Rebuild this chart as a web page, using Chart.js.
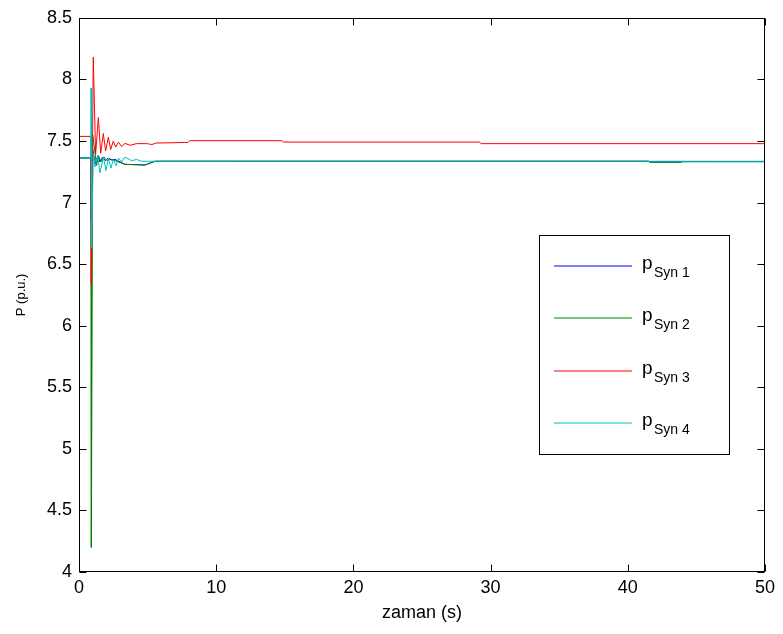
<!DOCTYPE html>
<html>
<head>
<meta charset="utf-8">
<script src="https://cdn.jsdelivr.net/npm/chart.js@4/dist/chart.umd.min.js"></script>
<style>
  html, body { margin: 0; padding: 0; background: #fff; }
  #wrap { width: 783px; height: 634px; }
</style>
</head>
<body>
<div id="wrap"><canvas id="c" width="783" height="634"></canvas></div>
<script>
// ---- data ----
const seriesNames = ['Syn 1', 'Syn 2', 'Syn 3', 'Syn 4'];
const xTickValues = [0, 10, 20, 30, 40, 50];
const yTickValues = [4, 4.5, 5, 5.5, 6, 6.5, 7, 7.5, 8, 8.5];

const tSyn1 = [0, 0.88, 0.9, 0.98, 1.1, 1.2, 1.36, 1.53, 1.72, 1.92, 2.12, 2.36, 2.62, 3.0, 3.35, 4.81, 5.54, 41.5, 41.6, 50];
const pSyn1 = [7.362, 7.362, 6.85, 7.45, 7.36, 7.31, 7.38, 7.33, 7.37, 7.34, 7.36, 7.345, 7.35, 7.33, 7.31, 7.305, 7.335, 7.335, 7.332, 7.332];

const tSyn2 = [0, 0.88, 0.9, 1.0, 1.17, 1.28, 1.43, 1.6, 1.82, 2.04, 2.26, 2.62, 3.35, 4.81, 5.54, 41.5, 41.6, 43.9, 44.0, 50];
const pSyn2 = [7.362, 7.362, 4.2, 7.55, 7.40, 7.30, 7.38, 7.33, 7.37, 7.34, 7.355, 7.34, 7.31, 7.305, 7.335, 7.335, 7.326, 7.326, 7.332, 7.332];

const tSyn3 = [0, 0.88, 0.9, 1.04, 1.21, 1.41, 1.58, 1.77, 1.94, 2.14, 2.31, 2.5, 2.67, 2.87, 3.11, 3.35, 3.72, 4.2, 5.0, 5.3, 5.6, 7.95, 8.06, 14.8, 14.9, 29.2, 29.3, 50];
const pSyn3 = [7.537, 7.537, 6.33, 8.18, 7.39, 7.69, 7.40, 7.56, 7.42, 7.53, 7.43, 7.50, 7.45, 7.49, 7.455, 7.48, 7.465, 7.478, 7.478, 7.47, 7.483, 7.488, 7.502, 7.502, 7.491, 7.491, 7.478, 7.478];

const tSyn4 = [0, 0.86, 0.88, 0.92, 1.04, 1.17, 1.36, 1.53, 1.77, 1.97, 2.14, 2.33, 2.5, 2.7, 2.87, 3.11, 3.35, 3.84, 4.2, 4.57, 5.05, 50];
const pSyn4 = [7.362, 7.362, 7.93, 6.63, 7.40, 7.29, 7.38, 7.24, 7.37, 7.26, 7.36, 7.28, 7.35, 7.30, 7.36, 7.33, 7.37, 7.34, 7.35, 7.335, 7.335, 7.335];

const seriesColors = ['#0000ff', '#008000', '#ff0000', '#00bfbf'];

// ---- build datasets ----
const times = [tSyn1, tSyn2, tSyn3, tSyn4];
const values = [pSyn1, pSyn2, pSyn3, pSyn4];
const datasets = seriesNames.map((name, i) => ({
  label: 'p ' + name,
  data: times[i].map((t, k) => ({ x: t, y: values[i][k] })),
  borderColor: seriesColors[i],
  borderWidth: 1,
  pointRadius: 0,
  tension: 0,
  fill: false,
  order: 4 - i
}));

const FONT = "'Liberation Sans', Arial, sans-serif";

const frame = {
  id: 'frame',
  afterDraw(chart) {
    const ctx = chart.ctx;
    const area = chart.chartArea;
    const xs = chart.scales.x, ys = chart.scales.y;
    const L = Math.round(area.left) + 0.5, R = Math.round(area.right) - 0.5;
    const T = Math.round(area.top) + 0.5, B = Math.round(area.bottom) - 0.5;
    ctx.save();
    ctx.lineWidth = 1;
    ctx.strokeStyle = '#000';
    ctx.strokeRect(L, T, R - L, B - T);
    const tl = 7;
    for (const v of yTickValues) {
      const py = Math.round(ys.getPixelForValue(v)) + 0.5;
      ctx.beginPath();
      ctx.moveTo(L, py); ctx.lineTo(L + tl, py);
      ctx.moveTo(R, py); ctx.lineTo(R - tl, py);
      ctx.stroke();
    }
    for (const v of xTickValues) {
      const px = Math.round(xs.getPixelForValue(v)) + 0.5;
      ctx.beginPath();
      ctx.moveTo(px, B); ctx.lineTo(px, B - tl);
      ctx.moveTo(px, T); ctx.lineTo(px, T + tl);
      ctx.stroke();
    }
    // legend box
    const bx = 539.5, by = 235.5, bw = 190, bh = 219;
    ctx.fillStyle = '#fff';
    ctx.fillRect(bx, by, bw, bh);
    ctx.strokeStyle = '#000';
    ctx.strokeRect(bx, by, bw, bh);
    const rowY = [266, 318, 371, 423];
    seriesNames.forEach((name, i) => {
      const y = rowY[i];
      ctx.strokeStyle = seriesColors[i];
      ctx.beginPath();
      ctx.moveTo(554, y);
      ctx.lineTo(632, y);
      ctx.stroke();
      ctx.fillStyle = '#000';
      ctx.textAlign = 'left';
      ctx.textBaseline = 'alphabetic';
      ctx.font = '19px ' + FONT;
      ctx.fillText('p', 642, y + 3);
      ctx.font = '14px ' + FONT;
      ctx.fillText(name, 654, y + 11);
    });
    ctx.restore();
  }
};

new Chart(document.getElementById('c'), {
  type: 'line',
  data: { datasets },
  plugins: [frame],
  options: {
    responsive: false,
    animation: false,
    events: [],
    layout: { padding: { top: 16, right: 18, left: 0, bottom: 0 } },
    plugins: { legend: { display: false }, tooltip: { enabled: false } },
    scales: {
      x: {
        type: 'linear',
        min: 0, max: 50,
        afterBuildTicks: s => { s.ticks = xTickValues.map(v => ({ value: v })); },
        afterFit: s => { s.height = 62; },
        grid: { display: false, drawTicks: false },
        border: { display: false },
        ticks: { color: '#000', font: { family: FONT, size: 18 }, padding: 5, maxRotation: 0, autoSkip: false, callback: v => String(v) },
        title: { display: true, text: 'zaman (s)', color: '#000', font: { family: FONT, size: 18 }, padding: { top: 0, bottom: 10 } }
      },
      y: {
        type: 'linear',
        min: 4, max: 8.5,
        afterBuildTicks: s => { s.ticks = yTickValues.map(v => ({ value: v })); },
        afterFit: s => { s.width = 79; },
        grid: { display: false, drawTicks: false },
        border: { display: false },
        ticks: { color: '#000', font: { family: FONT, size: 18 }, padding: 7, autoSkip: false, callback: v => String(v) },
        title: { display: true, text: 'P (p.u.)', color: '#000', font: { family: FONT, size: 13 }, padding: { top: 14, bottom: 0 } }
      }
    }
  }
});
</script>
</body>
</html>
